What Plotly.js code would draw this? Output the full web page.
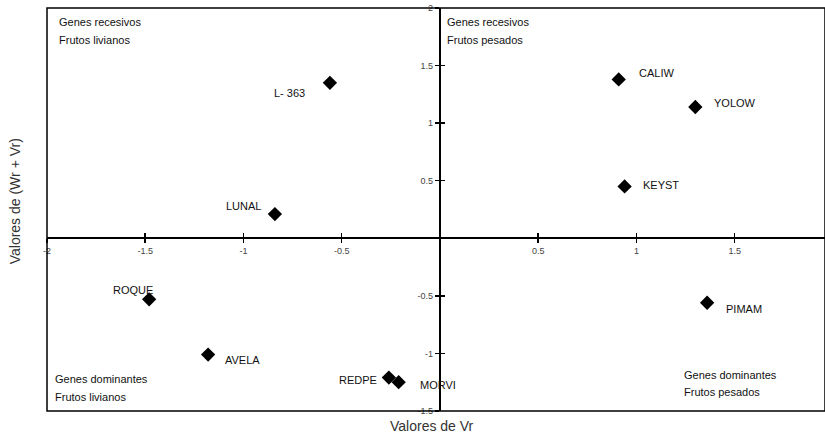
<!DOCTYPE html>
<html>
<head>
<meta charset="utf-8">
<script src="https://cdn.plot.ly/plotly-3.0.1.min.js"></script>
<style>html,body{margin:0;padding:0;background:#fff;}#chart{width:825px;height:441px;}</style>
</head>
<body>
<div id="chart"></div>
<script>
// Data
var genotypes = ["L- 363", "LUNAL", "ROQUE", "AVELA", "REDPE", "MORVI", "CALIW", "YOLOW", "KEYST", "PIMAM"];
var vr        = [-0.56, -0.84, -1.48, -1.18, -0.26, -0.21, 0.91, 1.30, 0.94, 1.36];
var wrPlusVr  = [1.35, 0.21, -0.53, -1.01, -1.21, -1.25, 1.38, 1.14, 0.45, -0.56];
var xTickVals = [-2, -1.5, -1, -0.5, 0.5, 1, 1.5];
var xTickText = ["-2", "-1.5", "-1", "-0.5", "0.5", "1", "1.5"];
var yTickVals = [-1.5, -1, -0.5, 0.5, 1, 1.5, 2];
var yTickText = ["-1.5", "-1", "-0.5", "0.5", "1", "1.5", "2"];
var quadrantLabels = [
  ["Genes recesivos", "Frutos livianos"],
  ["Genes recesivos", "Frutos pesados"],
  ["Genes dominantes", "Frutos livianos"],
  ["Genes dominantes", "Frutos pesados"]
];

// label placement (styling only)
var labelStyle = [
  {xa: "right", xs: -23, ys: -10},
  {xa: "right", xs: -12, ys: 8},
  {xa: "center", xs: -16, ys: 9},
  {xa: "left", xs: 15, ys: -5},
  {xa: "right", xs: -10, ys: -2},
  {xa: "left", xs: 19, ys: -3},
  {xa: "left", xs: 18, ys: 6},
  {xa: "left", xs: 17, ys: 4},
  {xa: "left", xs: 16, ys: 1},
  {xa: "left", xs: 17, ys: -6}
];
var quadPos = [
  {x: 0.013, y: [0.965, 0.921]},
  {x: 0.5116, y: [0.965, 0.921]},
  {x: 0.0077, y: [0.0794, 0.0347]},
  {x: 0.816, y: [0.0893, 0.047]}
];

var xRange = [-2, 1.96];
var yRange = [-1.5, 2];
var xPos = (0 - yRange[0]) / (yRange[1] - yRange[0]);
var yPos = (0 - xRange[0]) / (xRange[1] - xRange[0]);

var font = "Liberation Sans, Arial, sans-serif";

var traces = [
  {
    type: "scatter", mode: "markers", x: vr, y: wrPlusVr,
    marker: {symbol: "diamond", size: 11, color: "#000"},
    hoverinfo: "text", text: genotypes, showlegend: false
  },
  {
    type: "scatter", mode: "markers", x: [0], y: [0], xaxis: "x2", yaxis: "y2",
    marker: {opacity: 0}, hoverinfo: "skip", showlegend: false
  }
];

var annotations = [];
for (var i = 0; i < genotypes.length; i++) {
  annotations.push({
    x: vr[i], y: wrPlusVr[i], xref: "x", yref: "y", text: genotypes[i],
    showarrow: false, xanchor: labelStyle[i].xa, yanchor: "middle",
    xshift: labelStyle[i].xs, yshift: labelStyle[i].ys,
    font: {family: font, size: 11, color: "#111"}
  });
}
for (var q = 0; q < quadrantLabels.length; q++) {
  for (var l = 0; l < 2; l++) {
    annotations.push({
      x: quadPos[q].x, y: quadPos[q].y[l], xref: "paper", yref: "paper",
      text: quadrantLabels[q][l], showarrow: false, xanchor: "left", yanchor: "middle",
      font: {family: font, size: 11, color: "#111"}
    });
  }
}
annotations.push({
  x: 0.495, y: -0.036, xref: "paper", yref: "paper", text: "Valores de Vr",
  showarrow: false, xanchor: "center", yanchor: "middle",
  font: {family: font, size: 14, color: "#333"}
});
annotations.push({
  x: -0.04, y: 0.52, xref: "paper", yref: "paper", text: "Valores de (Wr + Vr)",
  showarrow: false, xanchor: "center", yanchor: "middle", textangle: -90,
  font: {family: font, size: 14, color: "#333"}
});

var axisCommon = {
  showgrid: false, zeroline: false, showline: true, linecolor: "#000", linewidth: 2,
  ticklen: 4, tickwidth: 1.5, tickcolor: "#000",
  tickfont: {family: font, size: 9, color: "#444"}
};

var layout = {
  width: 825, height: 441,
  margin: {l: 47, r: 0, t: 8, b: 30},
  paper_bgcolor: "#fff", plot_bgcolor: "#fff",
  showlegend: false,
  xaxis: Object.assign({}, axisCommon, {
    range: xRange, anchor: "free", position: xPos, ticks: "outside",
    tickmode: "array", tickvals: xTickVals, ticktext: xTickText
  }),
  yaxis: Object.assign({}, axisCommon, {
    range: yRange, anchor: "free", position: yPos, ticks: "outside",
    tickmode: "array", tickvals: yTickVals, ticktext: yTickText
  }),
  xaxis2: Object.assign({}, axisCommon, {
    range: xRange, overlaying: "x", anchor: "free", position: xPos, ticks: "inside",
    tickmode: "array", tickvals: xTickVals, showticklabels: false
  }),
  yaxis2: Object.assign({}, axisCommon, {
    range: yRange, overlaying: "y", anchor: "free", position: yPos, ticks: "inside",
    tickmode: "array", tickvals: yTickVals, showticklabels: false
  }),
  shapes: [{
    type: "rect", xref: "paper", yref: "paper", x0: 0, x1: 1, y0: 0, y1: 1,
    line: {color: "#000", width: 1.5}
  }],
  annotations: annotations
};

Plotly.newPlot("chart", traces, layout, {displayModeBar: false, staticPlot: true});
</script>
</body>
</html>
